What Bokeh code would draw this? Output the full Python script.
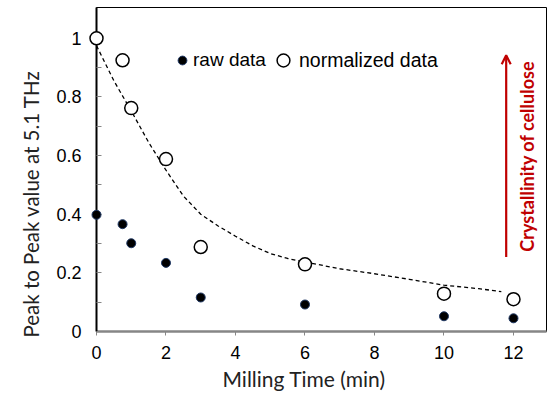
import math
from bokeh.plotting import figure
from bokeh.models import (Range1d, FixedTicker, CustomJSTickFormatter, Legend, LegendItem,
                          Label, Arrow, OpenHead, Title)
from bokeh.embed import file_html
from bokeh.resources import INLINE

# ---- data ----
milling_time = [0, 0.75, 1, 2, 3, 6, 10, 12]
raw_data = [0.398, 0.366, 0.301, 0.234, 0.116, 0.092, 0.052, 0.045]
normalized_data = [1.0, 0.925, 0.762, 0.588, 0.288, 0.229, 0.129, 0.110]

fit_x = [0, 0.5, 1, 1.5, 2, 2.5, 3, 3.5, 4, 4.5, 5, 5.5, 6, 7, 8, 9, 10, 11, 11.65]
fit_y = [0.975, 0.855, 0.752, 0.645, 0.55, 0.462, 0.40, 0.36, 0.325, 0.292, 0.266, 0.249,
         0.237, 0.214, 0.197, 0.178, 0.158, 0.146, 0.136]

x_ticks = [0, 2, 4, 6, 8, 10, 12]
y_ticks = [0, 0.2, 0.4, 0.6, 0.8, 1.0]
y_minor = [0.1, 0.3, 0.5, 0.7, 0.9]

x_title = "Milling Time (min)"
y_title = "Peak to Peak value at 5.1 THz"
note = "Crystallinity of cellulose"

TICK_FONT = "Liberation Sans"
LABEL_FONT = "Lato"
RED = "#c00000"

p = figure(width=547, height=401, output_backend="svg", toolbar_location=None,
           x_range=Range1d(0, 12.95), y_range=Range1d(0, 1.105),
           min_border_left=96, min_border_right=1, min_border_top=7, min_border_bottom=70)
p.grid.visible = False
p.outline_line_color = "black"
p.outline_line_width = 1
p.background_fill_color = "white"
p.border_fill_color = "white"

# x axis
xa = p.xaxis[0]
xa.ticker = FixedTicker(ticks=x_ticks)
xa.axis_line_color = "#868686"
xa.axis_line_width = 2.5
xa.major_tick_line_color = "#868686"
xa.major_tick_in = 0
xa.major_tick_out = 4
xa.minor_tick_line_color = None
xa.major_label_text_font = TICK_FONT
xa.major_label_text_font_size = "18px"
xa.major_label_text_color = "black"
xa.major_label_standoff = 10

# y axis
ya = p.yaxis[0]
ya.ticker = FixedTicker(ticks=y_ticks, minor_ticks=y_minor)
ya.formatter = CustomJSTickFormatter(code="return String(Math.round(tick*10)/10);")
ya.axis_line_color = "black"
ya.axis_line_width = 2
ya.major_tick_line_color = "#868686"
ya.major_tick_in = 5
ya.major_tick_out = 0
ya.minor_tick_line_color = "#868686"
ya.minor_tick_in = 5
ya.minor_tick_out = 0
ya.major_label_text_font = TICK_FONT
ya.major_label_text_font_size = "18px"
ya.major_label_text_color = "black"
ya.major_label_standoff = 15

# axis titles
p.add_layout(Title(text=x_title, align="left", offset=126, standoff=5,
                   text_font=LABEL_FONT, text_font_size="21px", text_font_style="normal",
                   text_color="#222222"), "below")
p.add_layout(Title(text=y_title, align="left", offset=-6, standoff=18, vertical_align="top",
                   text_font=LABEL_FONT, text_font_size="20.5px", text_font_style="normal",
                   text_color="#222222"), "left")

# fit curve
p.line(fit_x, fit_y, line_color="black", line_width=1.3, line_dash="4 3")

raw = p.scatter(milling_time, raw_data, size=9, marker="circle",
                fill_color="black", line_color="#1f3864", line_width=1)
norm = p.scatter(milling_time, normalized_data, size=13, marker="circle",
                 fill_color="white", line_color="black", line_width=1.5)
raw.level = "overlay"
norm.level = "overlay"

leg1 = Legend(items=[LegendItem(label="raw data", renderers=[raw])],
              location=(75, 260), orientation="horizontal",
              glyph_width=22, glyph_height=22, label_standoff=0,
              padding=0, margin=0, spacing=0,
              border_line_color=None, background_fill_alpha=0,
              label_text_font=TICK_FONT, label_text_font_size="19px", label_text_color="black")
leg2 = Legend(items=[LegendItem(label="normalized data", renderers=[norm])],
              location=(171, 255), orientation="horizontal",
              glyph_width=32, glyph_height=32, label_standoff=-10,
              padding=0, margin=0, spacing=0,
              border_line_color=None, background_fill_alpha=0,
              label_text_font=TICK_FONT, label_text_font_size="19.5px", label_text_color="black")
p.add_layout(leg1)
p.add_layout(leg2)

# red arrow + note
p.add_layout(Arrow(x_start=11.79, y_start=0.254, x_end=11.79, y_end=0.942,
                   line_color=RED, line_width=2.2,
                   end=OpenHead(size=9, line_color=RED, line_width=2.2)))
p.add_layout(Label(x=12.39, y=0.598, text=note, angle=math.pi / 2, text_align="center",
                   text_baseline="middle", text_font=LABEL_FONT, text_font_size="18px",
                   text_font_style="bold", text_color=RED))

open("out.html", "w").write(file_html(p, INLINE))
